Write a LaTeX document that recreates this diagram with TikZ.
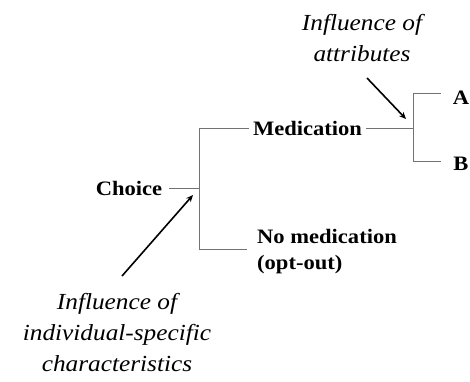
\documentclass[tikz,border=0pt]{standalone}
\usepackage{fontspec}
\setmainfont{Liberation Serif}
\newfontfamily\lblfont[FakeStretch=1.1]{Liberation Serif Bold}
\newfontfamily\annfont[FakeStretch=1.1]{Liberation Serif Italic}
\usetikzlibrary{arrows.meta}
\tikzset{
  lbl/.style={inner sep=0pt, font=\lblfont\fontsize{20.5}{26}\selectfont},
  ann/.style={inner sep=0pt, align=center, font=\annfont\fontsize{23}{31}\selectfont},
  tree/.style={draw=black!55, line width=1pt},
  infl/.style={draw=black, line width=1.6pt, -{Stealth[length=7pt,width=6pt]}}
}
\begin{document}
\begin{tikzpicture}[x=1pt,y=-1pt]
\useasboundingbox (0,0) rectangle (470,381);
% labels
\node[lbl] (choice) at (129,188) {Choice};
\node[lbl] (med) at (307.5,128) {Medication};
\node[lbl] (a) at (461,98) {A};
\node[lbl] (b) at (461,164) {B};
\node[lbl, align=left, anchor=north west] (nomed) at (257,229) {No medication\\(opt-out)};
% junctions
\coordinate (j1) at (199,188);
\coordinate (j1t) at (199,128);
\coordinate (j1b) at (199,249);
\coordinate (j2) at (413,128);
\coordinate (j2t) at (413,93);
\coordinate (j2b) at (413,161);
% tree lines
\draw[tree] ([xshift=7pt]choice.east) -- (j1);
\draw[tree] (j1t) -- (j1b);
\draw[tree] (j1t) -- ([xshift=-4pt]med.west);
\draw[tree] (j1b) -- (247,249);
\draw[tree] ([xshift=4pt]med.east) -- (j2);
\draw[tree] (j2t) -- (j2b);
\draw[tree] (j2t) -- (441,93);
\draw[tree] (j2b) -- (441,161);
% annotations
\node[ann] (attr) at (362,38) {Influence of\\attributes};
\node[ann] (indiv) at (117,333) {Influence of\\individual-specific\\characteristics};
\coordinate (tipA) at (406,119);
\coordinate (tipB) at (193,195);
\draw[infl] (367,78) -- (tipA);
\draw[infl] (122,276) -- (tipB);
\end{tikzpicture}
\end{document}
